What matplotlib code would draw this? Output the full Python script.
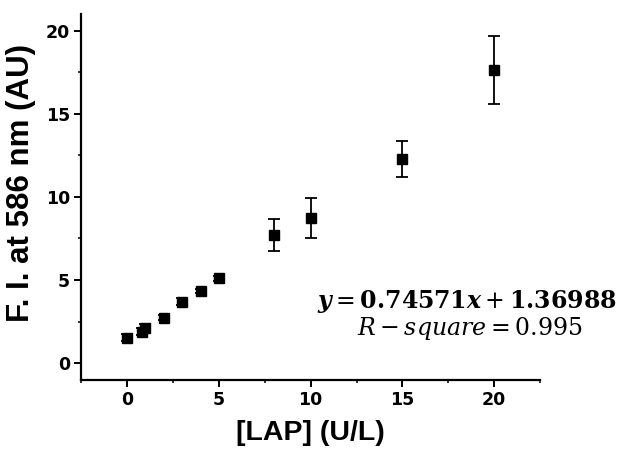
import matplotlib
matplotlib.use("Agg")
import matplotlib.pyplot as plt
from matplotlib import font_manager
from matplotlib.ticker import MultipleLocator

# LAP concentration (U/L) and fluorescence intensity at 586 nm
lap = [0, 0.8, 1, 2, 3, 4, 5, 8, 10, 15, 20]
fi = [1.54, 1.9, 2.1, 2.74, 3.7, 4.34, 5.1, 7.68, 8.75, 12.25, 17.65]
fi_err = [0.2, 0.2, 0.25, 0.15, 0.2, 0.15, 0.15, 0.96, 1.2, 1.08, 2.05]

x_ticks = [0, 5, 10, 15, 20]
y_ticks = [0, 5, 10, 15, 20]

plt.rcParams["mathtext.fontset"] = "dejavuserif"


def _font(name, size):
    # busca el fichero exacto para no caer en otra variante
    for f in font_manager.findSystemFonts():
        if f.endswith(name):
            return font_manager.FontProperties(fname=f, size=size)
    return font_manager.FontProperties(family="DejaVu Sans", weight="bold", size=size)


xlabel_font = _font("LiberationSans-Bold.ttf", 20.5)
ylabel_font = _font("LiberationSans-Bold.ttf", 22.5)
tick_font = _font("LiberationSansNarrow-Bold.ttf", 12.5)

fig = plt.figure(figsize=(6.2, 4.5), dpi=100)
ax = fig.add_axes((0.131, 0.156, 0.74, 0.813))

ax.errorbar(lap, fi, yerr=fi_err, fmt="s", color="black", ms=7.5,
            ecolor="black", elinewidth=1.3, capsize=4, capthick=1.3)

ax.set_xlim(-2.5, 22.5)
ax.set_ylim(-1, 21)
ax.set_xticks(x_ticks)
ax.set_yticks(y_ticks)
ax.xaxis.set_minor_locator(MultipleLocator(2.5))
ax.yaxis.set_minor_locator(MultipleLocator(2.5))
for side in ("top", "right"):
    ax.spines[side].set_visible(False)
for side in ("left", "bottom"):
    ax.spines[side].set_linewidth(1.6)
ax.tick_params(which="major", direction="out", length=5, width=1.4, pad=3)
ax.tick_params(which="minor", direction="out", length=2.5, width=1.1)
for lab in ax.get_xticklabels() + ax.get_yticklabels():
    lab.set_fontproperties(tick_font)

ax.set_xlabel("[LAP] (U/L)", fontproperties=xlabel_font)
ax.set_ylabel("F. I. at 586 nm (AU)", fontproperties=ylabel_font)
ax.xaxis.set_label_coords(0.5, -0.11)
ax.yaxis.set_label_coords(-0.098, 0.538)

fig.text(0.511, 0.329, r"$\boldsymbol{y} = \mathbf{0.74571}\boldsymbol{x} + \mathbf{1.36988}$",
         fontsize=17, ha="left", va="center")
fig.text(0.576, 0.271, r"$R - square = 0.995$", fontsize=17,
         ha="left", va="center")

fig.savefig("out.png", dpi=100)
